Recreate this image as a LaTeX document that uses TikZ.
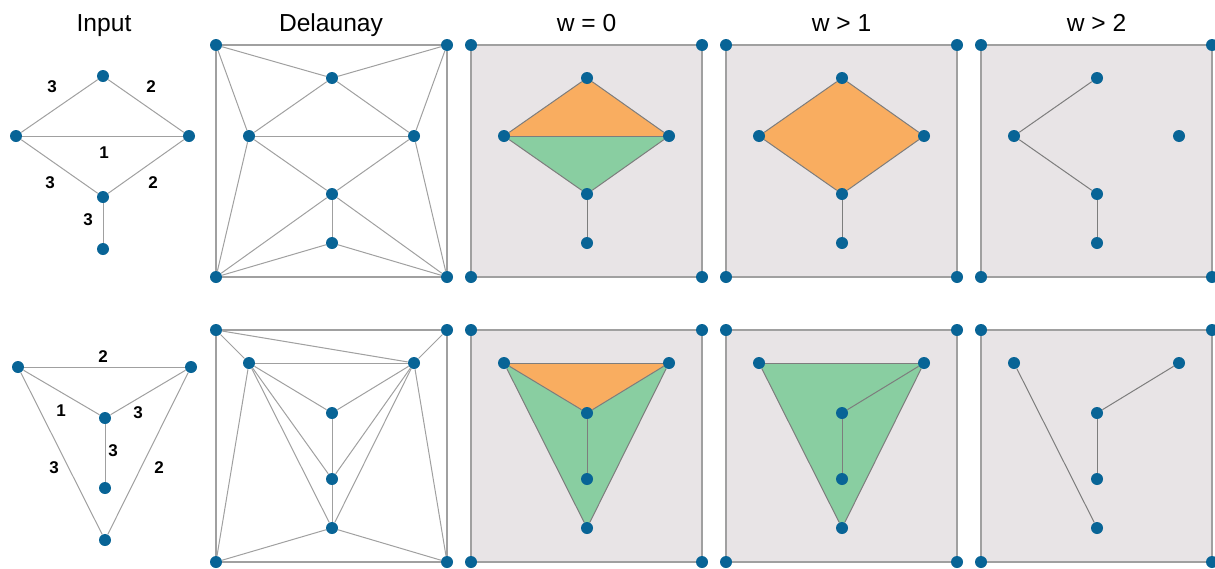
\documentclass[tikz,border=0pt]{standalone}
\usepackage{fontspec}
\setmainfont{Liberation Sans}
\definecolor{dotblue}{RGB}{8,100,150}
\definecolor{panelbg}{RGB}{232,228,230}
\definecolor{framegray}{RGB}{160,160,160}
\definecolor{edgegray}{RGB}{160,160,160}
\definecolor{darkedge}{RGB}{125,125,125}
\definecolor{orangefill}{RGB}{249,173,96}
\definecolor{greenfill}{RGB}{137,206,161}
\pgfdeclarelayer{back}
\pgfsetlayers{back,main}
\tikzset{
  dot/.style={circle, fill=dotblue, inner sep=0pt, minimum size=6pt},
  frameline/.style={draw=framegray, line width=0.8pt},
  edgeline/.style={draw=edgegray, line width=0.5pt},
  triline/.style={draw=darkedge, line width=0.5pt},
  titletext/.style={font=\fontsize{12.3}{14}\selectfont, anchor=base},
  wlabel/.style={font=\bfseries\fontsize{8.5}{10}\selectfont, inner sep=0pt},
}
\newcommand\mkcorners[3]{%
  \node[dot] (#1tl) at (#2,#3) {};
  \node[dot] (#1tr) at (#2+231,#3) {};
  \node[dot] (#1bl) at (#2,#3+232) {};
  \node[dot] (#1br) at (#2+231,#3+232) {};
}
\newcommand\mkframe[1]{%
  \draw[frameline] (#1tl) -- (#1tr) -- (#1br) -- (#1bl) -- (#1tl);
}
\newcommand\mkbg[1]{%
  \begin{pgfonlayer}{back}
    \fill[panelbg] (#1tl.center) rectangle (#1br.center);
  \end{pgfonlayer}
}
\newcommand\topnodes[3]{%
  \node[dot] (#1a) at (#2+116,#3+33) {};
  \node[dot] (#1b) at (#2+33,#3+91) {};
  \node[dot] (#1c) at (#2+198,#3+91) {};
  \node[dot] (#1d) at (#2+116,#3+149) {};
  \node[dot] (#1e) at (#2+116,#3+198) {};
}
\newcommand\botnodes[3]{%
  \node[dot] (#1a) at (#2+33,#3+33) {};
  \node[dot] (#1b) at (#2+198,#3+33) {};
  \node[dot] (#1c) at (#2+116,#3+83) {};
  \node[dot] (#1d) at (#2+116,#3+149) {};
  \node[dot] (#1e) at (#2+116,#3+198) {};
}
\begin{document}
\begin{tikzpicture}[x=0.5pt, y=-0.5pt]
\useasboundingbox (0,0) rectangle (1215,568);

% ---------- titles ----------
\node[titletext] (tInput) at (104,31) {Input};
\node[titletext] (tDel) at (331,31) {Delaunay};
\node[titletext] (tW0) at (586.5,31) {w = 0};
\node[titletext] (tW1) at (841.5,31) {w > 1};
\node[titletext] (tW2) at (1096.5,31) {w > 2};

% ---------- top input ----------
\node[dot] (ia) at (103,76) {};
\node[dot] (ib) at (16,136) {};
\node[dot] (ic) at (189,136) {};
\node[dot] (id) at (103,197) {};
\node[dot] (ie) at (103,249) {};
\draw[edgeline] (ia) -- (ib);
\draw[edgeline] (ia) -- (ic);
\draw[edgeline] (ib) -- (ic);
\draw[edgeline] (ib) -- (id);
\draw[edgeline] (ic) -- (id);
\draw[edgeline] (id) -- (ie);
\node[wlabel] (il1) at (52,87) {3};
\node[wlabel] (il2) at (151,87) {2};
\node[wlabel] (il3) at (104,153) {1};
\node[wlabel] (il4) at (50,183) {3};
\node[wlabel] (il5) at (153,183) {2};
\node[wlabel] (il6) at (88,220) {3};

% ---------- bottom input ----------
\node[dot] (ja) at (18,367) {};
\node[dot] (jb) at (191,367) {};
\node[dot] (jc) at (105,418) {};
\node[dot] (jd) at (105,488) {};
\node[dot] (je) at (105,540) {};
\draw[edgeline] (ja) -- (jb);
\draw[edgeline] (ja) -- (jc);
\draw[edgeline] (jb) -- (jc);
\draw[edgeline] (jc) -- (jd);
\draw[edgeline] (ja) -- (je);
\draw[edgeline] (jb) -- (je);
\node[wlabel] (jl1) at (103,357) {2};
\node[wlabel] (jl2) at (61,411) {1};
\node[wlabel] (jl3) at (138,413) {3};
\node[wlabel] (jl4) at (113,451) {3};
\node[wlabel] (jl5) at (54,468) {3};
\node[wlabel] (jl6) at (159,468) {2};

% ---------- top Delaunay ----------
\mkcorners{dt}{216}{45}
\topnodes{dt}{216}{45}
\mkframe{dt}
\foreach \u/\v in {tl/a, tr/a, tl/b, tr/c, a/b, a/c, b/c, b/d, c/d, d/e, bl/b, bl/d, bl/e, br/d, br/e, br/c}
  \draw[edgeline] (dt\u) -- (dt\v);

% ---------- bottom Delaunay ----------
\mkcorners{db}{216}{330}
\botnodes{db}{216}{330}
\mkframe{db}
\foreach \u/\v in {tl/a, tl/b, tr/b, a/b, a/c, a/d, a/e, a/bl, b/c, b/d, b/e, b/br, c/d, d/e, e/bl, e/br}
  \draw[edgeline] (db\u) -- (db\v);

% ---------- top w = 0 ----------
\mkcorners{pa}{471}{45}
\topnodes{pa}{471}{45}
\mkbg{pa}
\mkframe{pa}
\begin{pgfonlayer}{back}
  \fill[orangefill] (paa.center) -- (pab.center) -- (pac.center) -- cycle;
  \fill[greenfill] (pab.center) -- (pac.center) -- (pad.center) -- cycle;
\end{pgfonlayer}
\draw[triline] (paa) -- (pab);
\draw[triline] (paa) -- (pac);
\draw[triline] (pab) -- (pac);
\draw[triline] (pab) -- (pad);
\draw[triline] (pac) -- (pad);
\draw[triline] (pad) -- (pae);

% ---------- top w > 1 ----------
\mkcorners{pb}{726}{45}
\topnodes{pb}{726}{45}
\mkbg{pb}
\mkframe{pb}
\begin{pgfonlayer}{back}
  \fill[orangefill] (pba.center) -- (pbb.center) -- (pbd.center) -- (pbc.center) -- cycle;
\end{pgfonlayer}
\draw[triline] (pba) -- (pbb);
\draw[triline] (pbb) -- (pbd);
\draw[triline] (pbd) -- (pbc);
\draw[triline] (pbc) -- (pba);
\draw[triline] (pbd) -- (pbe);

% ---------- top w > 2 ----------
\mkcorners{pc}{981}{45}
\topnodes{pc}{981}{45}
\mkbg{pc}
\mkframe{pc}
\draw[triline] (pca) -- (pcb);
\draw[triline] (pcb) -- (pcd);
\draw[triline] (pcd) -- (pce);

% ---------- bottom w = 0 ----------
\mkcorners{qa}{471}{330}
\botnodes{qa}{471}{330}
\mkbg{qa}
\mkframe{qa}
\begin{pgfonlayer}{back}
  \fill[greenfill] (qaa.center) -- (qac.center) -- (qab.center) -- (qae.center) -- cycle;
  \fill[orangefill] (qaa.center) -- (qab.center) -- (qac.center) -- cycle;
\end{pgfonlayer}
\draw[triline] (qaa) -- (qab);
\draw[triline] (qaa) -- (qac);
\draw[triline] (qab) -- (qac);
\draw[triline] (qaa) -- (qae);
\draw[triline] (qab) -- (qae);
\draw[triline] (qac) -- (qad);

% ---------- bottom w > 1 ----------
\mkcorners{qb}{726}{330}
\botnodes{qb}{726}{330}
\mkbg{qb}
\mkframe{qb}
\begin{pgfonlayer}{back}
  \fill[greenfill] (qba.center) -- (qbb.center) -- (qbe.center) -- cycle;
\end{pgfonlayer}
\draw[triline] (qba) -- (qbb);
\draw[triline] (qbb) -- (qbe);
\draw[triline] (qbe) -- (qba);
\draw[triline] (qbb) -- (qbc);
\draw[triline] (qbc) -- (qbd);

% ---------- bottom w > 2 ----------
\mkcorners{qc}{981}{330}
\botnodes{qc}{981}{330}
\mkbg{qc}
\mkframe{qc}
\draw[triline] (qca) -- (qce);
\draw[triline] (qcb) -- (qcc);
\draw[triline] (qcc) -- (qcd);
\end{tikzpicture}
\end{document}
